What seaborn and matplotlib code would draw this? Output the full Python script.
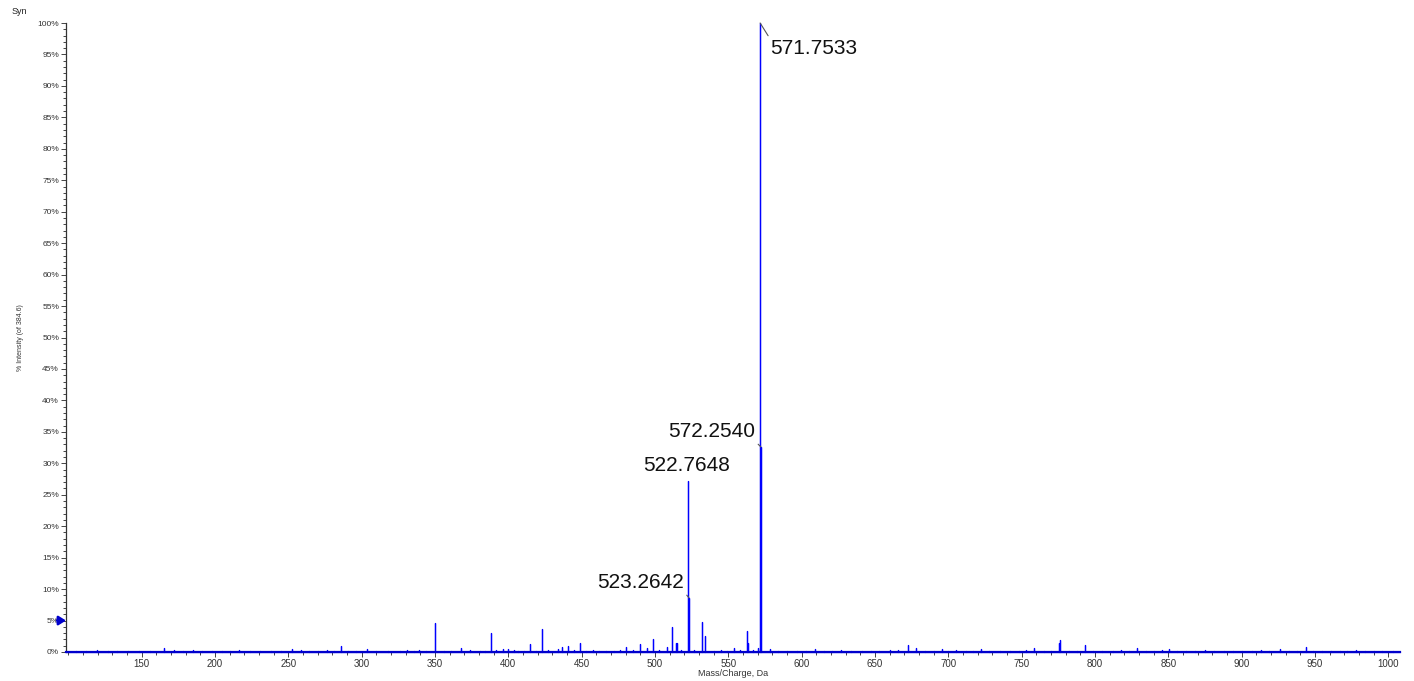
import numpy as np
import pandas as pd
import matplotlib
matplotlib.use("Agg")
import matplotlib.pyplot as plt
from matplotlib.ticker import MultipleLocator, PercentFormatter
import seaborn as sns

# labelled peaks (m/z, % intensity)
label_mz = [571.7533, 572.2540, 522.7648, 523.2642]
label_int = [100.0, 32.6, 27.2, 8.6]

# other visible peaks
peak_mz = [119.6, 165.6, 184.9, 216.7, 252.6, 276.3, 285.9, 303.9, 339.3, 350.2,
           367.9, 388.0, 396.5, 399.7, 414.9, 423.3, 433.9, 436.9, 440.6, 448.9,
           480.2, 489.6, 494.4, 498.6, 508.5, 511.4, 514.1, 515.0, 531.8, 532.3,
           534.2, 553.9, 563.0, 563.5, 570.0, 578.5, 609.3, 660.3, 672.3, 678.1,
           695.8, 722.3, 758.6, 775.4, 776.4, 793.3, 828.4, 845.5, 850.4, 926.4,
           943.7, 978.2]
peak_int = [0.25, 0.6, 0.35, 0.3, 0.5, 0.3, 0.95, 0.5, 0.35, 4.6,
            0.7, 3.1, 0.55, 0.5, 1.3, 3.6, 0.45, 0.8, 0.9, 1.5,
            0.8, 1.2, 0.7, 2.0, 0.75, 3.9, 1.4, 1.4, 4.7, 0.7,
            2.5, 0.6, 3.3, 1.4, 0.6, 0.4, 0.5, 0.3, 1.1, 0.65,
            0.4, 0.5, 0.65, 1.4, 1.9, 1.15, 0.6, 0.35, 0.5, 0.4,
            0.75, 0.3]

# small baseline noise
noise_mz = [105, 112, 127, 133, 141, 148, 156, 172, 178, 191, 198, 205, 210, 224,
            231, 238, 245, 259, 264, 270, 281, 291, 296, 310, 318, 326, 331, 336,
            344, 356, 361, 374, 381, 384, 392, 404, 407, 411, 419, 427, 445, 453,
            458, 462, 467, 472, 476, 485, 503, 518, 527, 540, 545, 549, 558, 567,
            584, 590, 597, 603, 615, 621, 627, 634, 641, 647, 653, 666, 684, 690,
            700, 705, 712, 717, 728, 735, 742, 748, 753, 765, 770, 782, 788, 799,
            805, 812, 818, 823, 835, 840, 856, 862, 868, 875, 881, 888, 894, 900,
            907, 913, 919, 932, 938, 949, 955, 961, 967, 972, 984, 990, 996, 1003]
noise_int = [0.15, 0.1, 0.2, 0.15, 0.1, 0.2, 0.15, 0.25, 0.1, 0.2, 0.15, 0.1, 0.2, 0.15,
             0.1, 0.2, 0.1, 0.25, 0.15, 0.2, 0.1, 0.15, 0.2, 0.1, 0.15, 0.2, 0.25, 0.2,
             0.15, 0.2, 0.15, 0.25, 0.15, 0.2, 0.3, 0.25, 0.2, 0.15, 0.2, 0.25, 0.3, 0.2,
             0.25, 0.2, 0.15, 0.2, 0.25, 0.3, 0.25, 0.3, 0.35, 0.2, 0.25, 0.2, 0.3, 0.25,
             0.2, 0.15, 0.2, 0.15, 0.2, 0.15, 0.25, 0.2, 0.15, 0.2, 0.15, 0.25, 0.2, 0.15,
             0.2, 0.3, 0.15, 0.2, 0.15, 0.2, 0.15, 0.2, 0.25, 0.2, 0.15, 0.2, 0.15, 0.2,
             0.15, 0.2, 0.25, 0.15, 0.2, 0.15, 0.2, 0.15, 0.2, 0.25, 0.15, 0.2, 0.15, 0.2,
             0.15, 0.25, 0.2, 0.15, 0.2, 0.15, 0.2, 0.15, 0.2, 0.15, 0.2, 0.15, 0.2, 0.1]

x_range = (98.5, 1008)

sns.set_theme(style="white")
plt.rcParams['font.family'] = ['Liberation Sans', 'DejaVu Sans']

mz = np.array(label_mz + peak_mz + noise_mz, dtype=float)
inten = np.array(label_int + peak_int + noise_int, dtype=float)
order = np.argsort(mz)
mz, inten = mz[order], inten[order]

# stick spectrum: baseline -> top -> baseline for every peak
stick_x = np.r_[x_range[0], np.repeat(mz, 3), x_range[1]]
stick_y = np.r_[0, np.column_stack([np.zeros_like(inten), inten, np.zeros_like(inten)]).ravel(), 0]
df = pd.DataFrame({'mz': stick_x, 'pct': stick_y})

fig = plt.figure(figsize=(14.14, 6.81), dpi=100)
ax = fig.add_axes([66/1414, 1 - 652/681, (1400 - 66)/1414, (652 - 23)/681])

sns.lineplot(data=df, x='mz', y='pct', sort=False, estimator=None,
             color='#0000ff', lw=0.9, ax=ax)
for ln in ax.lines:
    ln.set_clip_on(False)

ax.set_xlim(*x_range)
ax.set_ylim(0, 100)
ax.set_xticks(range(150, 1001, 50))
ax.xaxis.set_minor_locator(MultipleLocator(10))
ax.yaxis.set_major_locator(MultipleLocator(5))
ax.yaxis.set_minor_locator(MultipleLocator(1))
ax.yaxis.set_major_formatter(PercentFormatter(decimals=0))

sns.despine(ax=ax)
ax.spines['left'].set_color('#333333')
ax.spines['left'].set_linewidth(0.9)
ax.spines['bottom'].set_color('#0000cc')
ax.spines['bottom'].set_linewidth(1.6)

ax.tick_params(which='both', bottom=True, left=True, direction='out',
               color='#444444', width=0.7)
ax.tick_params(which='major', length=3.5, pad=1.5)
ax.tick_params(which='minor', length=2)
ax.tick_params(axis='x', labelsize=7, labelcolor='#333333')
ax.tick_params(axis='y', labelsize=6, labelcolor='#333333')

ax.set_xlabel('Mass/Charge, Da', fontsize=6.5, color='#333333', labelpad=0)
ax.set_ylabel('% Intensity (of 384.6)', fontsize=5, color='#333333', labelpad=10)
fig.text(12/1414, 1 - 12/681, 'Syn', fontsize=6.5, color='#222222', va='center', ha='left')

# peak labels
lead = dict(arrowstyle='-', color='#555555', lw=0.8, shrinkA=0, shrinkB=0)
ax.annotate(f'{label_mz[0]:.4f}', xy=(label_mz[0], label_int[0]), xytext=(10, -16),
            textcoords='offset pixels', ha='left', va='top', fontsize=15, color='#111111',
            arrowprops=dict(lead, relpos=(0.0, 1.0)), annotation_clip=False)
ax.annotate(f'{label_mz[1]:.4f}', xy=(label_mz[1], label_int[1]), xytext=(-6, 6),
            textcoords='offset pixels', ha='right', va='bottom', fontsize=15, color='#111111',
            arrowprops=dict(lead, relpos=(1.0, 0.0)))
ax.annotate(f'{label_mz[2]:.4f}', xy=(label_mz[2], label_int[2]), xytext=(-2, 6),
            textcoords='offset pixels', ha='center', va='bottom', fontsize=15, color='#111111')
ax.annotate(f'{label_mz[3]:.4f}', xy=(label_mz[3], label_int[3]), xytext=(-5, 6),
            textcoords='offset pixels', ha='right', va='bottom', fontsize=15, color='#111111',
            arrowprops=dict(lead, relpos=(1.0, 0.0)))

# threshold marker at 5%
ax.annotate('', xy=(0, 5), xycoords=('axes fraction', 'data'), xytext=(-9, 0),
            textcoords='offset pixels',
            arrowprops=dict(arrowstyle='-|>,head_length=0.35,head_width=0.22',
                            color='#0000cc', lw=1.8, shrinkA=0, shrinkB=0),
            annotation_clip=False)

fig.savefig('out.png', dpi=100)
